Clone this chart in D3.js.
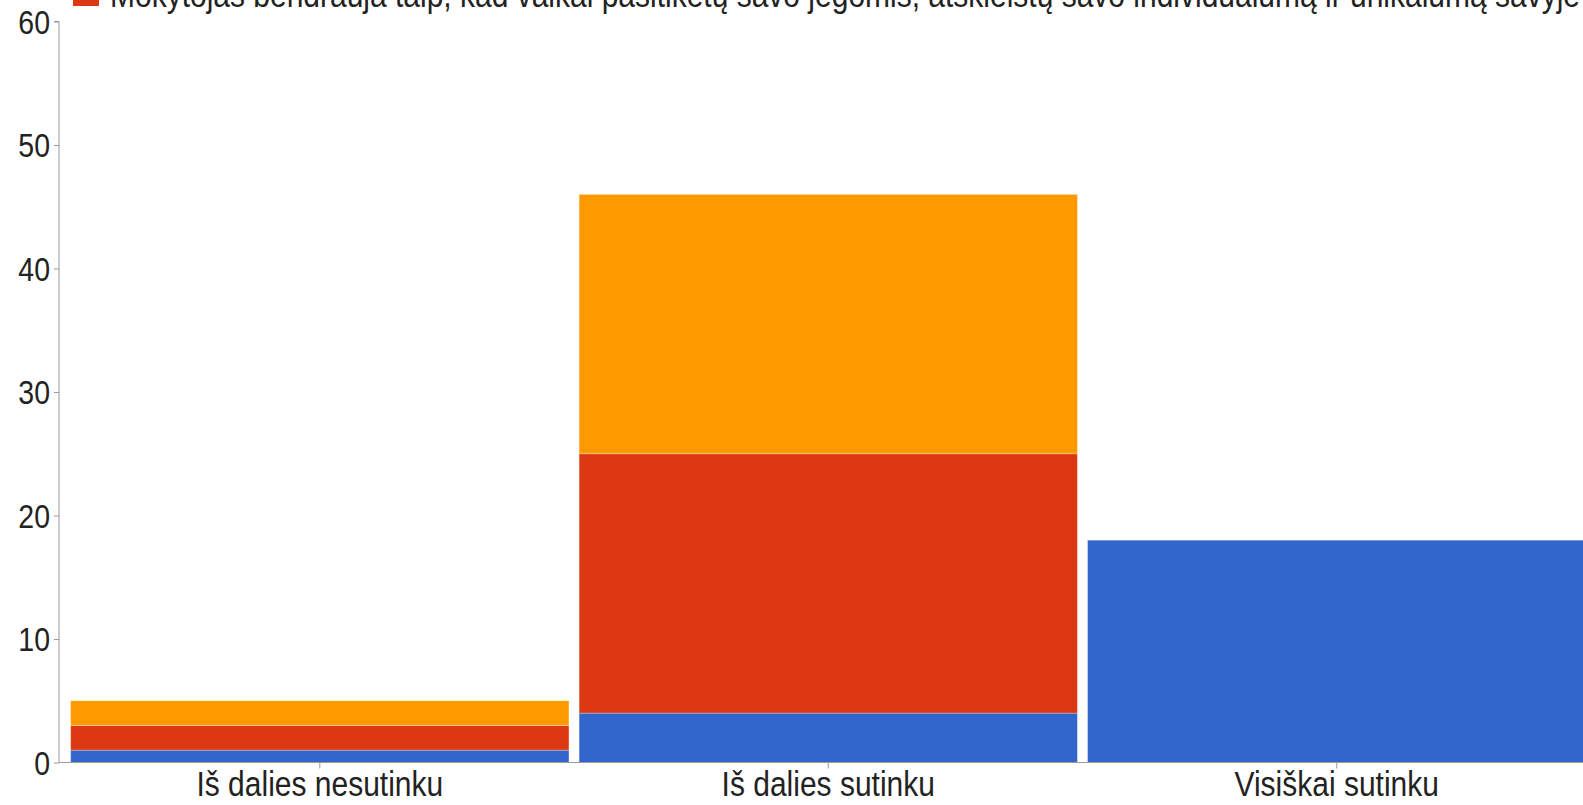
<!DOCTYPE html>
<html><head><meta charset="utf-8">
<script src="https://cdn.jsdelivr.net/npm/d3@7"></script>
<style>html,body{margin:0;padding:0;background:#fff;overflow:hidden}svg{display:block}</style>
</head><body>
<script>
const categories = ["Iš dalies nesutinku", "Iš dalies sutinku", "Visiškai sutinku"];
const seriesNames = ["Serija 1", "Mokytojas bendrauja taip, kad vaikai pasitikėtų savo jėgomis, atskleistų savo individualumą ir unikalumą savyje", "Serija 3"];
const blueValues = [1, 4, 18];
const redValues = [2, 21, 0];
const orangeValues = [2, 21, 0];
const yTicks = [0, 10, 20, 30, 40, 50, 60];
const colors = ["#3366cc", "#dc3912", "#ff9900"];

const W = 1583, H = 805;
const svg = d3.select("body").append("svg").attr("width", W).attr("height", H);
const font = "'Liberation Sans', Arial, sans-serif";
const SY = 1.15;

const x = d3.scaleBand().domain(categories).range([60.5, 1596]).paddingInner(0.02).paddingOuter(0.02);
const y = d3.scaleLinear().domain([0, 60]).range([762.5, 21.5]);

const rows = categories.map((c, i) => ({cat: c, s0: blueValues[i], s1: redValues[i], s2: orangeValues[i]}));
const stack = d3.stack().keys(["s0", "s1", "s2"])(rows);

svg.append("g").selectAll("g").data(stack).join("g")
  .attr("fill", (d, i) => colors[i])
  .selectAll("rect").data(d => d.filter(p => p[1] > p[0])).join("rect")
  .attr("x", d => x(d.data.cat))
  .attr("width", x.bandwidth())
  .attr("y", d => y(d[1]))
  .attr("height", d => y(d[0]) - y(d[1]))
  .attr("stroke", "#ffffff").attr("stroke-opacity", 0.35).attr("stroke-width", 0.8);

// y axis
const yAxis = svg.append("g").attr("transform", "translate(59,0)")
  .call(d3.axisLeft(y).tickValues(yTicks).tickSize(5).tickPadding(4).tickFormat(d3.format("d")));
yAxis.select(".domain").attr("stroke", "#9a9a9a").attr("d", `M-5,${y(60)}H0V${y(0)}`);
yAxis.selectAll(".tick line").attr("stroke", "#9a9a9a");
yAxis.selectAll(".tick text").attr("font-family", font).attr("font-size", 28.5).attr("fill", "#222")
  .attr("dy", "0.36em").attr("transform", `scale(1,${SY})`);

// x axis
const xAxis = svg.append("g").attr("transform", `translate(0,${y(0)})`)
  .call(d3.axisBottom(x).tickSize(6).tickPadding(6));
xAxis.select(".domain").attr("stroke", "#9a9a9a").attr("d", `M59,0H${W}`);
xAxis.selectAll(".tick line").attr("stroke", "#9a9a9a");
xAxis.selectAll(".tick text").attr("font-family", font).attr("font-size", 30).attr("fill", "#222")
  .attr("y", 29.5).attr("dy", 0).attr("transform", `scale(1,${SY})`);

// legend (clipped at top, as in the reference)
const lg = svg.append("g");
lg.append("rect").attr("x", 73).attr("y", -20).attr("width", 26).attr("height", 26).attr("fill", colors[1]);
lg.append("text").attr("font-family", font).attr("font-size", 30).attr("fill", "#222")
  .attr("transform", `translate(110,7) scale(1,${SY})`)
  .text(seriesNames[1]);
</script>
</body></html>
